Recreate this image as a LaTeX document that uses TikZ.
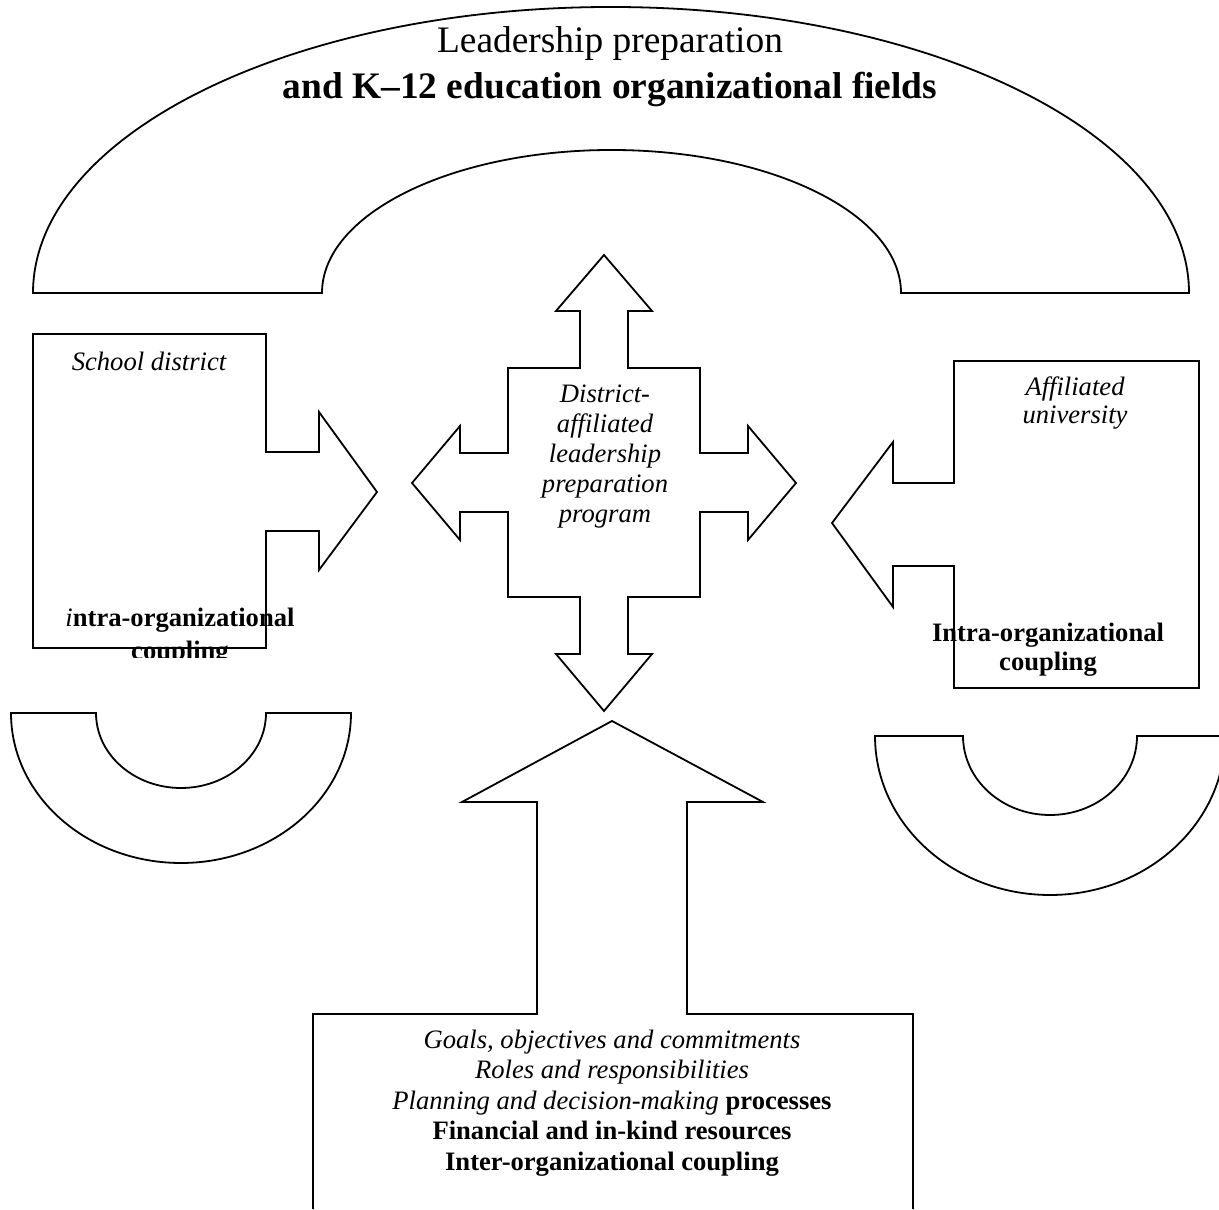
\documentclass[tikz,border=0pt]{standalone}
\usepackage{fontspec}
\setmainfont{Liberation Serif}

\begin{document}
\begin{tikzpicture}[
  x=0.5pt, y=0.5pt,
  outline/.style={draw, line width=0.9pt, line join=miter},
  txt/.style={align=center, inner sep=0pt, font=\fontsize{13.3}{15}\selectfont},
  big/.style={align=center, inner sep=0pt, font=\fontsize{18.7}{23}\selectfont}
]
\useasboundingbox (0,0) rectangle (1219,1209);

% organizational field arch
\draw[outline] (33,916) arc[start angle=180, end angle=0, x radius=578, y radius=286]
  -- (901,916) arc[start angle=0, end angle=180, x radius=289.5, y radius=143] -- cycle;

% lower half rings
\draw[outline] (11,496) arc[start angle=180, end angle=360, x radius=170, y radius=150]
  -- (266,496) arc[start angle=0, end angle=-180, x radius=85, y radius=75] -- cycle;
\draw[outline] (875,473) arc[start angle=180, end angle=360, x radius=175, y radius=159]
  -- (1137,473) arc[start angle=0, end angle=-180, x radius=87, y radius=79] -- cycle;

% school district box with arrow
\draw[outline] (33,875) -- (266,875) -- (266,757) -- (319,757) -- (319,797) -- (377,717)
  -- (319,639) -- (319,678) -- (266,678) -- (266,561) -- (33,561) -- cycle;

% university box with arrow
\draw[outline] (1199,848) -- (954,848) -- (954,726) -- (893,726) -- (893,767) -- (832,686)
  -- (893,602) -- (893,643) -- (954,643) -- (954,521) -- (1199,521) -- cycle;

% program cross
\draw[outline] (604,954) -- (652,898) -- (628,898) -- (628,841) -- (700,841) -- (700,756)
  -- (748,756) -- (748,783) -- (796,726) -- (748,669) -- (748,697) -- (700,697)
  -- (700,612) -- (628,612) -- (628,555) -- (652,555) -- (604,498) -- (556,555)
  -- (580,555) -- (580,612) -- (508,612) -- (508,697) -- (460,697) -- (460,669)
  -- (412,726) -- (460,783) -- (460,756) -- (508,756) -- (508,841) -- (580,841)
  -- (580,898) -- (556,898) -- cycle;

% linkage box with up arrow
\draw[outline] (313,0) -- (313,195) -- (537,195) -- (537,407) -- (462,407) -- (612,488)
  -- (763,407) -- (687,407) -- (687,195) -- (913,195) -- (913,0);

% texts
\node[big] (title) at (610,1142) {Leadership preparation\\\textbf{and K--12 education organizational fields}};
\node[txt, anchor=base, font=\fontsize{13.3}{15}\selectfont\itshape] (district) at (149,838) {School district};
\node[txt, font=\fontsize{13.3}{14}\selectfont\itshape] (university) at (1075,806) {Affiliated\\university};
\node[txt, font=\fontsize{13.3}{15}\selectfont\itshape] (program) at (605,752)
  {District-\\affiliated\\leadership\\preparation\\program};
\node[txt, font=\fontsize{13.3}{15.2}\selectfont] (links) at (612,106)
  {\textit{Goals, objectives and commitments}\\
   \textit{Roles and responsibilities}\\
   \textit{Planning and decision-making} \textbf{processes}\\
   \textbf{Financial and in-kind resources}\\
   \textbf{Inter-organizational coupling}};
\begin{scope}
  \clip (0,551) rectangle (420,700);
  \node[txt, font=\fontsize{13.3}{16.5}\selectfont\bfseries] (intraL) at (180,572)
    {{\mdseries\itshape i}ntra-organizational\\coupling};
\end{scope}
\node[txt, font=\fontsize{13.3}{14.5}\selectfont\bfseries] (intraR) at (1048,559)
  {Intra-organizational\\coupling};
\end{tikzpicture}
\end{document}
